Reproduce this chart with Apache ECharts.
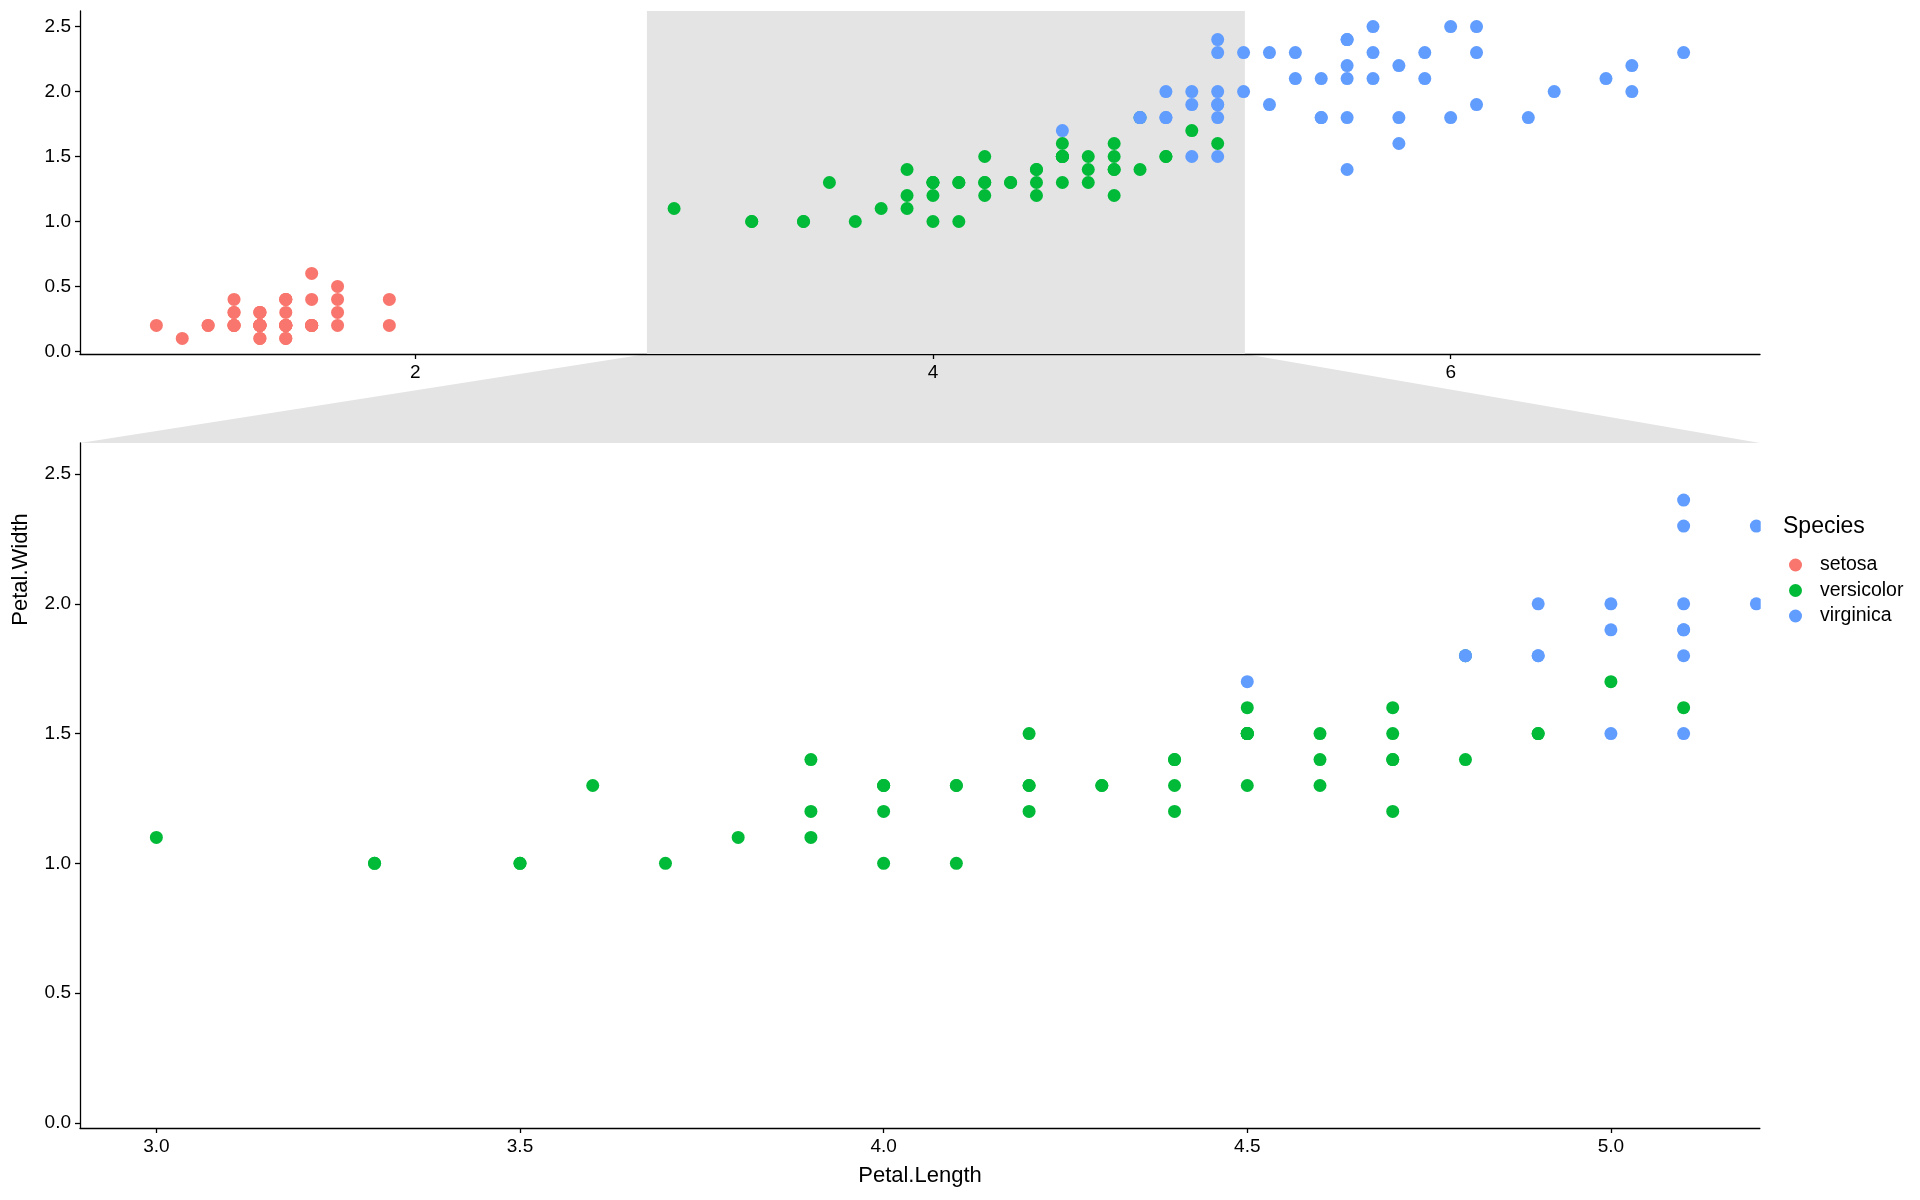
<!DOCTYPE html>
<html>
<head>
<meta charset="utf-8">
<script src="https://cdn.jsdelivr.net/npm/echarts@6/dist/echarts.min.js"></script>
<style>
    html, body { margin: 0; padding: 0; background: #fff; }
    #chart { width: 1920px; height: 1200px; }
</style>
</head>
<body>
<div id="chart"></div>
<script>
    // iris: Petal.Length / Petal.Width per species
    const setosaLength = [1.4,1.4,1.3,1.5,1.4,1.7,1.4,1.5,1.4,1.5,1.5,1.6,1.4,1.1,1.2,1.5,1.3,1.4,1.7,1.5,1.7,1.5,1.0,1.7,1.9,1.6,1.6,1.5,1.4,1.6,1.6,1.5,1.5,1.4,1.5,1.2,1.3,1.4,1.3,1.5,1.3,1.3,1.3,1.6,1.9,1.4,1.6,1.4,1.5,1.4];
    const setosaWidth = [0.2,0.2,0.2,0.2,0.2,0.4,0.3,0.2,0.2,0.1,0.2,0.2,0.1,0.1,0.2,0.4,0.4,0.3,0.3,0.3,0.2,0.4,0.2,0.5,0.2,0.2,0.4,0.2,0.2,0.2,0.2,0.4,0.1,0.2,0.2,0.2,0.2,0.1,0.2,0.2,0.3,0.3,0.2,0.6,0.4,0.3,0.2,0.2,0.2,0.2];
    const versicolorLength = [4.7,4.5,4.9,4.0,4.6,4.5,4.7,3.3,4.6,3.9,3.5,4.2,4.0,4.7,3.6,4.4,4.5,4.1,4.5,3.9,4.8,4.0,4.9,4.7,4.3,4.4,4.8,5.0,4.5,3.5,3.8,3.7,3.9,5.1,4.5,4.5,4.7,4.4,4.1,4.0,4.4,4.6,4.0,3.3,4.2,4.2,4.2,4.3,3.0,4.1];
    const versicolorWidth = [1.4,1.5,1.5,1.3,1.5,1.3,1.6,1.0,1.3,1.4,1.0,1.5,1.0,1.4,1.3,1.4,1.5,1.0,1.5,1.1,1.8,1.3,1.5,1.2,1.3,1.4,1.4,1.7,1.5,1.0,1.1,1.0,1.2,1.6,1.5,1.6,1.5,1.3,1.3,1.3,1.2,1.4,1.2,1.0,1.3,1.2,1.3,1.3,1.1,1.3];
    const virginicaLength = [6.0,5.1,5.9,5.6,5.8,6.6,4.5,6.3,5.8,6.1,5.1,5.3,5.5,5.0,5.1,5.3,5.5,6.7,6.9,5.0,5.7,4.9,6.7,4.9,5.7,6.0,4.8,4.9,5.6,5.8,6.1,6.4,5.6,5.1,5.6,6.1,5.6,5.5,4.8,5.4,5.6,5.1,5.1,5.9,5.7,5.2,5.0,5.2,5.4,5.1];
    const virginicaWidth = [2.5,1.9,2.1,1.8,2.2,2.1,1.7,1.8,1.8,2.5,2.0,1.9,2.1,2.0,2.4,2.3,1.8,2.2,2.3,1.5,2.3,2.0,2.0,1.8,2.1,1.8,1.8,1.8,2.1,1.6,1.9,2.0,2.2,1.5,1.4,2.3,2.4,1.8,1.8,2.1,2.4,2.3,1.9,2.3,2.5,2.3,1.9,2.0,2.3,1.8];

    const speciesNames = ['setosa', 'versicolor', 'virginica'];
    const speciesColors = ['#F8766D', '#00BA38', '#619CFF'];

    // axis ranges (ggplot 5% expansion)
    const fullXRange = [0.705, 7.195];
    const zoomXRange = [2.895, 5.205];
    const yRange = [-0.02, 2.62];
    const fullXTicks = [2, 4, 6];
    const zoomXTicks = [3.0, 3.5, 4.0, 4.5, 5.0];
    const yTicks = [0.0, 0.5, 1.0, 1.5, 2.0, 2.5];

    const lengths = [setosaLength, versicolorLength, virginicaLength];
    const widths = [setosaWidth, versicolorWidth, virginicaWidth];

    const FONT = 'Liberation Sans, Arial, sans-serif';
    const zoomFill = '#e4e4e4';

    const axisBase = (gridIndex, min, max, ticks, fmt) => ({
        type: 'value',
        gridIndex,
        min,
        max,
        splitLine: { show: false },
        axisLine: { show: true, onZero: false, lineStyle: { color: '#000', width: 1.3 } },
        axisTick: { show: true, length: 5, customValues: ticks, lineStyle: { color: '#000', width: 1.3 } },
        axisLabel: { customValues: ticks, color: '#000', fontSize: 19, fontFamily: FONT, margin: 9, formatter: fmt }
    });

    const series = [];
    // grey zoom area in top panel
    series.push({
        type: 'scatter',
        xAxisIndex: 0,
        yAxisIndex: 0,
        data: [],
        z: 1,
        silent: true,
        markArea: {
            silent: true,
            itemStyle: { color: zoomFill },
            data: [[{ xAxis: zoomXRange[0] }, { xAxis: zoomXRange[1] }]]
        }
    });
    [0, 1].forEach((g) => {
        speciesNames.forEach((name, i) => {
            series.push({
                name,
                type: 'scatter',
                xAxisIndex: g,
                yAxisIndex: g,
                symbolSize: 13,
                clip: true,
                z: 3,
                itemStyle: { color: speciesColors[i], opacity: 1 },
                data: lengths[i].map((v, k) => [v, widths[i][k]])
            });
        });
    });

    const chart = echarts.init(document.getElementById('chart'));
    chart.setOption({
        animation: false,
        backgroundColor: '#fff',
        textStyle: { fontFamily: FONT },
        title: {
            text: 'Species',
            left: 1783,
            top: 515,
            padding: 0,
            textStyle: { color: '#000', fontSize: 23, fontWeight: 'normal', fontFamily: FONT }
        },
        legend: {
            data: speciesNames,
            orient: 'vertical',
            left: 1789,
            top: 555,
            padding: 0,
            icon: 'circle',
            itemWidth: 13,
            itemHeight: 13,
            itemGap: 5.5,
            textStyle: { color: '#000', fontSize: 19.5, lineHeight: 20, fontFamily: FONT, padding: [0, 0, 0, 13] }
        },
        grid: [
            { left: 80, top: 11, width: 1680, height: 343 },
            { left: 80, top: 443, width: 1680, height: 685 }
        ],
        xAxis: [
            axisBase(0, fullXRange[0], fullXRange[1], fullXTicks, (v) => String(Math.round(v))),
            Object.assign(axisBase(1, zoomXRange[0], zoomXRange[1], zoomXTicks, (v) => v.toFixed(1)), {
                name: 'Petal.Length',
                nameLocation: 'middle',
                nameGap: 37,
                nameTextStyle: { color: '#000', fontSize: 22, fontFamily: FONT }
            })
        ],
        yAxis: [
            axisBase(0, yRange[0], yRange[1], yTicks, (v) => v.toFixed(1)),
            axisBase(1, yRange[0], yRange[1], yTicks, (v) => v.toFixed(1))
        ],
        series
    });

    // connector between zoom area and zoom panel, plus clipping at panel edge
    const topRect = chart.getModel().getComponent('grid', 0).coordinateSystem.getRect();
    const zoomRect = chart.getModel().getComponent('grid', 1).coordinateSystem.getRect();
    const zx0 = chart.convertToPixel({ xAxisIndex: 0 }, zoomXRange[0]);
    const zx1 = chart.convertToPixel({ xAxisIndex: 0 }, zoomXRange[1]);
    const yBottom = topRect.y + topRect.height;
    chart.setOption({
        graphic: [
            {
                type: 'polygon',
                z: -10,
                silent: true,
                shape: { points: [[zx0, yBottom], [zx1, yBottom], [zoomRect.x + zoomRect.width, zoomRect.y], [zoomRect.x, zoomRect.y]] },
                style: { fill: zoomFill }
            },
            {
                type: 'rect',
                z: 100,
                silent: true,
                shape: { x: zoomRect.x + zoomRect.width + 0.7, y: zoomRect.y - 8, width: 14, height: zoomRect.height + 16 },
                style: { fill: '#fff' }
            },
            {
                type: 'text',
                z: 100,
                x: 21,
                y: (topRect.y + zoomRect.y + zoomRect.height) / 2,
                rotation: Math.PI / 2,
                style: {
                    text: 'Petal.Width',
                    fill: '#000',
                    fontSize: 22,
                    fontFamily: FONT,
                    align: 'center',
                    verticalAlign: 'middle'
                }
            }
        ]
    });
</script>
</body>
</html>
